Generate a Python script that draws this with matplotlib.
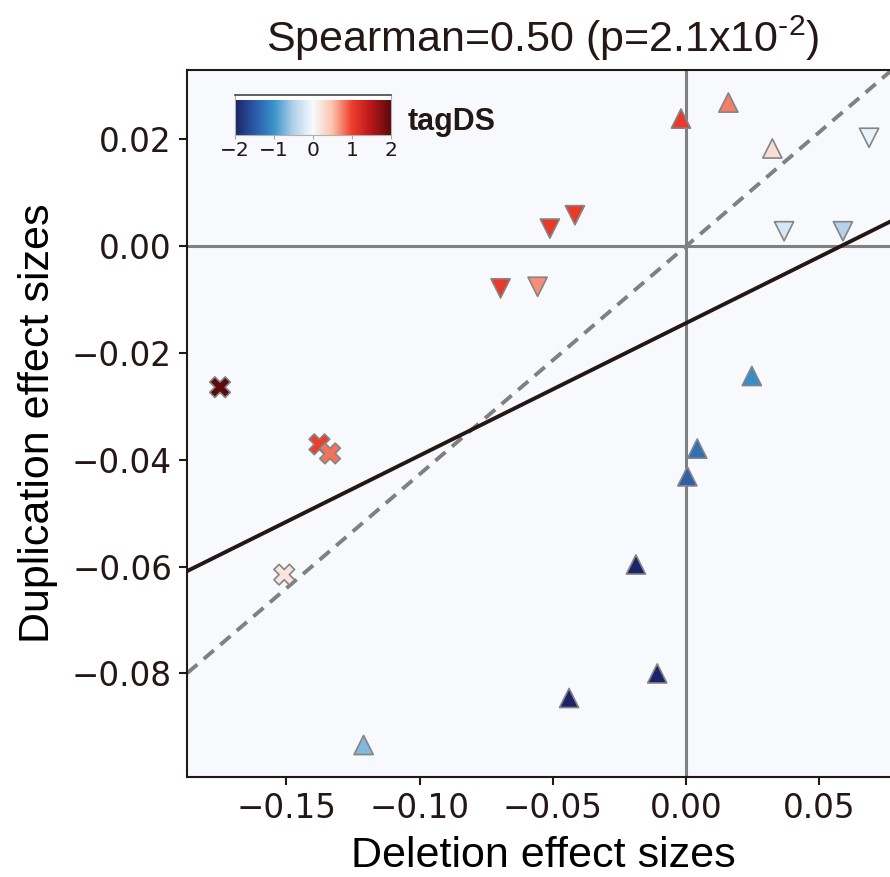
import numpy as np
import matplotlib
matplotlib.use("Agg")
import matplotlib.pyplot as plt
from matplotlib.colors import LinearSegmentedColormap

# deletion (x) / duplication (y) effect sizes and tagDS value, by marker group
up_del = [-0.0019, 0.0159, 0.0324, 0.0247, 0.0042, 0.0005, -0.0188, -0.0108, -0.0439, -0.1210]
up_dup = [0.0239, 0.0269, 0.0183, -0.0243, -0.0379, -0.0431, -0.0596, -0.0800, -0.0846, -0.0934]
up_tag = [1.05, 0.75, 0.25, -1.05, -1.3, -1.45, -2.0, -2.0, -2.0, -0.7]

down_del = [0.0687, 0.0368, 0.0589, -0.0511, -0.0417, -0.0696, -0.0557]
down_dup = [0.0203, 0.0028, 0.0028, 0.0033, 0.0058, -0.0079, -0.0076]
down_tag = [-0.1, -0.25, -0.5, 1.05, 1.05, 1.05, 0.7]

x_del = [-0.1749, -0.1376, -0.1336, -0.1508]
x_dup = [-0.0264, -0.0371, -0.0388, -0.0615]
x_tag = [2.0, 1.0, 0.8, 0.2]

# fitted line and reference line (slope, intercept)
fit_slope, fit_icpt = 0.248, -0.0144
ref_slope, ref_icpt = 0.427, 0.0

x_ticks = [-0.15, -0.10, -0.05, 0.00, 0.05]
y_ticks = [0.02, 0.00, -0.02, -0.04, -0.06, -0.08]
cbar_ticks = [-2, -1, 0, 1, 2]

title = "Spearman=0.50 (p=2.1x10$^{\\text{-}2}$)"

INK = "#231815"
GREY = "#808080"
cmap = LinearSegmentedColormap.from_list(
    "tag",
    ["#1b2466", "#2a5aa8", "#3a93cb", "#b3d2ea", "#f7fbff",
     "#fcc3ab", "#ef3e2b", "#b8161b", "#5c0a0a"],
)

plt.rcParams["font.family"] = ["DejaVu Sans"]
plt.rcParams["mathtext.fontset"] = "custom"
plt.rcParams["mathtext.rm"] = "Liberation Sans"
plt.rcParams["mathtext.it"] = "Liberation Sans"
plt.rcParams["text.color"] = INK
LAB = ["Liberation Sans"]

fig = plt.figure(figsize=(8.9, 8.77), dpi=100)
ax = fig.add_axes([0.2104, 0.114, 0.8008, 0.8062])
ax.set_facecolor("#f7f9fc")

xlim = (-0.1872, 0.0803)
ylim = (-0.0994, 0.0330)
ax.set_xlim(*xlim)
ax.set_ylim(*ylim)

ax.axhline(0, color=GREY, lw=2.2, zorder=1)
ax.axvline(0, color=GREY, lw=2.2, zorder=1)

xs = np.array(xlim)
ax.plot(xs, ref_slope * xs + ref_icpt, color=GREY, lw=2.8, ls=(0, (3.4, 2.2)), zorder=2)
ax.plot(xs, fit_slope * xs + fit_icpt, color=INK, lw=2.8, zorder=2)

kw = dict(cmap=cmap, vmin=-2, vmax=2, edgecolors="#858585", linewidths=1.2, zorder=3)
ax.scatter(up_del, up_dup, c=up_tag, marker="^", s=190, **kw)
ax.scatter(down_del, down_dup, c=down_tag, marker="v", s=190, **kw)
ax.scatter(x_del, x_dup, c=x_tag, marker="X", s=220, **kw)

ax.set_xticks(x_ticks)
ax.set_yticks(y_ticks)
ax.tick_params(labelsize=23.5, length=6, width=1.5, color=INK, labelcolor=INK, pad=5)
for side in ["left", "bottom", "top"]:
    ax.spines[side].set_color(INK)
    ax.spines[side].set_linewidth(1.5)
ax.spines["right"].set_visible(False)

ax.set_xlabel("Deletion effect sizes", fontsize=31, family=LAB, labelpad=8)
ax.set_ylabel("Duplication effect sizes", fontsize=31, family=LAB, labelpad=10)
fig.text(543 / 890, 1 - 38 / 877, title, fontsize=31, family=LAB,
         ha="center", va="center")

# colour bar drawn as an inset gradient
cax = fig.add_axes([235 / 890, 1 - 135 / 877, 156 / 890, 40 / 877])
grad = np.linspace(-2, 2, 256).reshape(1, -1)
cax.imshow(grad, cmap=cmap, vmin=-2, vmax=2, aspect="auto",
           extent=[-2, 2, 0, 1], origin="lower")
cax.set_xlim(-2, 2)
cax.set_ylim(0, 40 / 35)
cax.set_facecolor("white")
cax.set_yticks([])
cax.set_xticks(cbar_ticks)
cax.tick_params(axis="x", labelsize=14.5, length=3, width=0.8, color="#aaaaaa",
                labelcolor=INK, pad=1)
for side in ["left", "right", "bottom"]:
    cax.spines[side].set_color("#b0b0b0")
    cax.spines[side].set_linewidth(0.8)
cax.spines["top"].set_color("#444444")
cax.spines["top"].set_linewidth(1.2)
fig.text(408 / 890, 1 - 122 / 877, "tagDS", fontsize=22, fontweight="bold",
         family=LAB, ha="left", va="center")

fig.savefig("out.png", dpi=100)
